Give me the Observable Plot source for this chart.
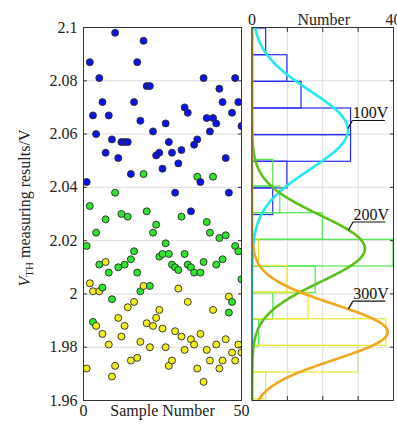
<!DOCTYPE html>
<html>
<head>
<meta charset="utf-8">
<script src="https://cdn.jsdelivr.net/npm/d3@7"></script>
<script src="https://cdn.jsdelivr.net/npm/@observablehq/plot@0.6"></script>
<style>
  html, body { margin: 0; padding: 0; background: #fff; }
  #wrap { position: relative; width: 397px; height: 424px; overflow: hidden; font-family: 'Liberation Serif', serif; }
  #wrap > svg, #wrap > .plot { position: absolute; top: 0; }
</style>
</head>
<body>
<div id="wrap"></div>
<script>
// ---------- data ----------
const sampleNumbers = d3.range(1, 51);
const seriesNames = ["100V", "200V", "300V"];
const blueValues = [2.042,2.087,2.067,2.060,2.081,2.072,2.053,2.067,2.058,2.098,
  2.051,2.057,2.057,2.057,2.045,2.072,2.087,2.065,2.095,2.078,
  2.078,2.061,2.052,2.053,2.047,2.064,2.057,2.053,2.038,2.049,
  2.054,2.070,2.068,2.031,2.056,2.058,2.042,2.081,2.066,2.061,
  2.066,2.064,2.077,2.072,2.051,2.038,2.068,2.081,2.072,2.063];
const greenValues = [2.018,2.033,1.9895,2.023,2.011,2.0024,2.028,2.008,1.998,2.038,
  2.010,2.030,2.011,2.029,2.013,2.016,2.008,2.001,2.045,2.031,
  2.003,2.023,2.026,2.014,2.015,2.019,2.015,2.011,2.010,2.009,
  2.029,2.015,2.011,2.010,2.008,2.044,2.008,2.012,2.027,2.023,
  2.044,2.011,2.021,2.013,2.022,1.993,1.997,2.018,2.016,2.0055];
const yellowValues = [1.972,2.004,2.001,1.988,2.001,1.985,2.012,1.981,1.969,1.973,
  1.991,1.984,1.988,1.995,1.975,1.997,1.976,1.982,2.003,1.989,
  1.980,1.988,1.991,1.994,1.987,1.980,1.973,1.975,1.986,2.002,
  1.984,1.979,1.997,1.983,1.981,1.972,1.985,1.967,1.979,1.975,
  1.994,1.981,1.972,1.975,1.983,1.999,1.978,1.975,1.981,1.978];
const yTicks = [1.96, 1.98, 2, 2.02, 2.04, 2.06, 2.08, 2.1];
const sampleTicks = [0, 50];
const numberTicks = [0, 40];
const numberGrid = [10, 20, 30];
const numberTickMarks = [10, 20, 30, 40];

// histogram: bin starts and counts (bin width 0.01)
const binWidth = 0.01;
const blueBinStarts = [2.0296, 2.0396, 2.0496, 2.0596, 2.0696, 2.0796, 2.0896];
const blueCounts    = [6, 10, 28, 28, 14, 10, 4];
const greenBinStarts = [1.9803, 1.9903, 2.0003, 2.0103, 2.0203, 2.0303, 2.0403];
const greenCounts    = [2, 6, 18, 40, 20, 8, 6];
const yellowBinStarts = [1.9605, 1.9705, 1.9805, 1.9905, 2.0005, 2.0105];
const yellowCounts    = [4, 30, 38, 16, 10, 2];

// normal fits
const sampleCount = 100;
const fitMeans  = [2.0615, 2.017, 1.9857];
const fitSigmas = [0.0147, 0.0125, 0.0104];
const annotationAnchors = [2.0621, 2.024, 1.9943];

// ---------- styles ----------
const pointColors = ["#0a14ea", "#2fe42f", "#f2ee1e"];
const histColors  = ["#2b2bf0", "#4de84d", "#e8e833"];
const curveColors = ["#22e8f2", "#5cbf1a", "#f0a81e"];
const font = "'Liberation Serif', 'Times New Roman', serif";

// ---------- build tables ----------
const valueSets = [blueValues, greenValues, yellowValues];
const points = [];
sampleNumbers.forEach((n, i) => {
  [2, 1, 0].forEach(s => points.push({n, v: valueSets[s][i], series: seriesNames[s]}));
});

const hist = [];
[[blueBinStarts, blueCounts], [greenBinStarts, greenCounts], [yellowBinStarts, yellowCounts]]
  .forEach(([starts, counts], s) => starts.forEach((lo, i) =>
    hist.push({series: seriesNames[s], lo, hi: lo + binWidth, count: counts[i]})));

const gauss = (s, y) => sampleCount * binWidth / (fitSigmas[s] * Math.sqrt(2 * Math.PI)) *
  Math.exp(-((y - fitMeans[s]) ** 2) / (2 * fitSigmas[s] ** 2));
const curveYs = d3.range(1.955, 2.1051, 0.0005);
const curves = seriesNames.map((name, s) => curveYs.map(y => ({series: name, y, x: gauss(s, y)})));

const annos = seriesNames.map((label, s) => {
  const y = annotationAnchors[s];
  return {label, y, x: gauss(s, y)};
});
const leadDx = 1.25, leadDy = 0.003, underlineLen = 9.2;

// ---------- left panel ----------
const left = Plot.plot({
  width: 245, height: 424,
  marginLeft: 83, marginRight: 4, marginTop: 27, marginBottom: 24,
  x: {domain: [0, 50], axis: null},
  y: {domain: [1.96, 2.1], axis: null},
  color: {domain: seriesNames, range: pointColors},
  style: {fontFamily: font, fontSize: "16px", color: "#222", background: "transparent", overflow: "visible"},
  marks: [
    Plot.gridY(yTicks, {stroke: "#dcdcdc", strokeOpacity: 1, strokeWidth: 1}),
    Plot.dot(points, {x: "n", y: "v", fill: "series", r: 3.5, stroke: "#2a2a2a", strokeWidth: 0.9, clip: true}),
    Plot.frame({stroke: "#333", strokeWidth: 1}),
    Plot.axisY(yTicks, {tickSize: 0, tickPadding: 6, tickFormat: d => String(d), label: null, fill: "#222", fontFamily: font}),
    Plot.axisY(yTicks, {anchor: "left", tickSize: -4, fill: "none", label: null, stroke: "#333"}),
    Plot.axisY(yTicks, {anchor: "right", tickSize: -4, fill: "none", label: null, stroke: "#333"}),
    Plot.text(sampleTicks, {x: d => d, frameAnchor: "bottom", dy: 15, fill: "#222"}),
    Plot.text(["Sample Number"], {frameAnchor: "bottom", dy: 15, fill: "#222"})
  ]
});
left.style.left = "0px";

// ---------- right panel ----------
const right = Plot.plot({
  width: 156, height: 424,
  marginLeft: 10.5, marginRight: 4, marginTop: 27, marginBottom: 24,
  x: {domain: [0, 40]},
  y: {domain: [1.96, 2.1], axis: null},
  color: {domain: seriesNames, range: histColors},
  style: {fontFamily: font, fontSize: "16px", color: "#222", background: "transparent", overflow: "visible"},
  marks: [
    Plot.gridY(yTicks, {stroke: "#dcdcdc", strokeOpacity: 1, strokeWidth: 1}),
    Plot.gridX(numberGrid, {stroke: "#dcdcdc", strokeOpacity: 1, strokeWidth: 1}),
    Plot.rect(hist, {x1: d => 0, x2: "count", y1: "lo", y2: "hi", fill: "none", stroke: "series", strokeWidth: 1.2, clip: true}),
    ...curves.map((c, s) => Plot.line(c, {x: "x", y: "y", stroke: curveColors[s], strokeWidth: 2.6, clip: true})),
    Plot.frame({stroke: "#333", strokeWidth: 1}),
    Plot.axisX(numberGrid, {anchor: "top", tickSize: -4, fill: "none", label: null, stroke: "#333"}),
    Plot.axisX(numberTickMarks, {anchor: "bottom", tickSize: -4, fill: "none", label: null, stroke: "#333"}),
    Plot.axisY(yTicks, {anchor: "right", tickSize: -4, fill: "none", label: null, stroke: "#333"}),
    Plot.text(numberTicks, {x: d => d, frameAnchor: "top", dy: -14, fill: "#222"}),
    Plot.text(["Number"], {frameAnchor: "top", dy: -14, dx: 1, fill: "#222"}),
    Plot.link(annos, {x1: "x", y1: "y", x2: d => d.x + leadDx, y2: d => d.y + leadDy, stroke: "#111", strokeWidth: 1.2}),
    Plot.link(annos, {x1: d => d.x + leadDx, y1: d => d.y + leadDy, x2: d => d.x + leadDx + underlineLen, y2: d => d.y + leadDy, stroke: "#111", strokeWidth: 1.2}),
    Plot.text(annos, {x: d => d.x + leadDx, y: d => d.y + leadDy, text: "label", textAnchor: "start", dx: 0.5, dy: -7.5, fill: "#111"})
  ]
});
right.style.left = "241px";

// ---------- y title ----------
const ns = "http://www.w3.org/2000/svg";
const tsvg = document.createElementNS(ns, "svg");
tsvg.setAttribute("width", 60); tsvg.setAttribute("height", 424);
tsvg.style.left = "0px";
const t = document.createElementNS(ns, "text");
t.setAttribute("transform", "translate(30,208) rotate(-90)");
t.setAttribute("text-anchor", "middle");
t.setAttribute("font-family", font);
t.setAttribute("font-size", "16");
t.setAttribute("fill", "#222");
const t1 = document.createElementNS(ns, "tspan"); t1.setAttribute("font-style", "italic"); t1.textContent = "V";
const t2 = document.createElementNS(ns, "tspan"); t2.setAttribute("font-size", "11"); t2.setAttribute("dy", "3"); t2.textContent = "TH";
const t3 = document.createElementNS(ns, "tspan"); t3.setAttribute("dy", "-3"); t3.textContent = " measuring results/V";
t.append(t1, t2, t3);
tsvg.append(t);

document.getElementById("wrap").append(left, right, tsvg);
</script>
</body>
</html>
